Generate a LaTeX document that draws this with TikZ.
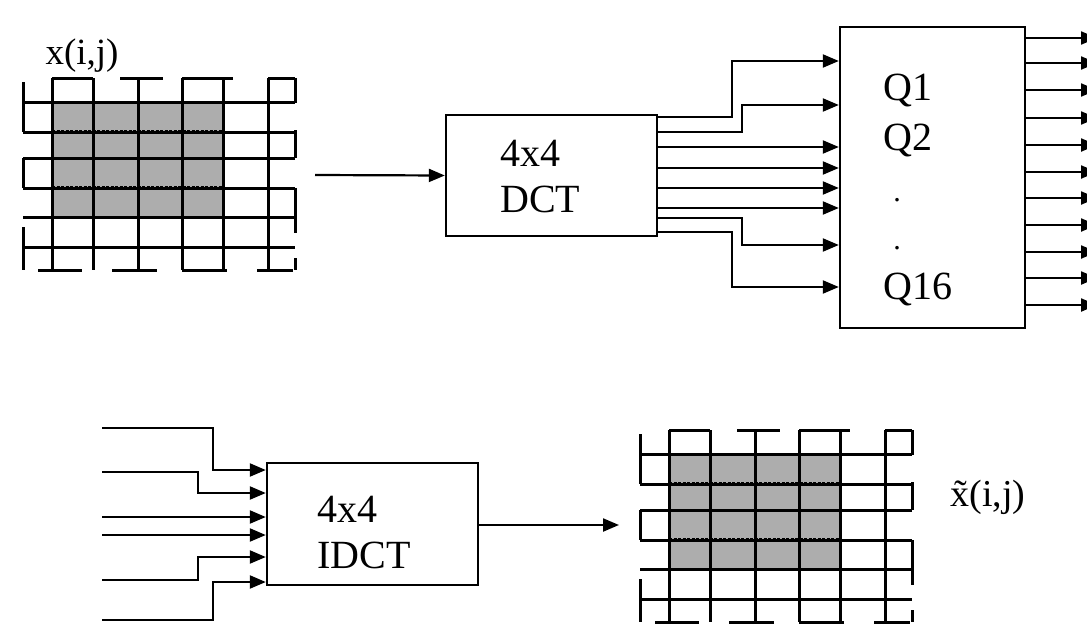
\documentclass[tikz,border=0pt]{standalone}
\usepackage{fontspec}
\setmainfont{Liberation Serif}
\usetikzlibrary{arrows.meta}
\tikzset{
  wire/.style={line width=2.2pt, line join=miter},
  arr/.style={wire, -{Triangle[length=16pt,width=13pt]}},
  box/.style={draw, line width=2.4pt, inner sep=0pt},
  lbl/.style={inner sep=0pt, anchor=west, font=\fontsize{40}{46}\selectfont},
  gline/.style={line width=3pt},
  pics/pixgrid/.style={code={
    \fill[black!32] (52,102) rectangle (223,217);
    \foreach \yy in {102,132,158,188,217,247} \draw[gline] (23,\yy) -- (295,\yy);
    \foreach \xx in {52,93,138,182,223,268} \draw[gline] (\xx,78) -- (\xx,270);
    \draw[gline, line width=4.2pt, dash pattern=on 3pt off 1.5pt] (52,132) -- (223,132) (52,188) -- (223,188);
    \draw[gline] (52,78) -- (93,78) (120,78) -- (163,78) (182,78) -- (233,78) (268,78) -- (295,78);
    \draw[gline] (38,270) -- (82,270) (112,270) -- (157,270) (182,270) -- (227,270) (257,270) -- (293,270);
    \draw[gline] (23,82) -- (23,132) (23,158) -- (23,188) (23,227) -- (23,270);
    \draw[gline] (295,78) -- (295,103) (295,130) -- (295,158) (295,188) -- (295,233) (295,258) -- (295,270);
  }}
}
\begin{document}
\begin{tikzpicture}[x=1pt,y=-1pt]
\useasboundingbox (0,0) rectangle (1087,624);
\clip (0,0) rectangle (1087,624);

% input grid and label
\pic at (0,0) {pixgrid};
\node[inner sep=0pt, font=\fontsize{37}{44}\selectfont] (xlab) at (82,56) {x(i,j)};

% DCT block
\node[box, minimum width=211pt, minimum height=121pt] (dct) at (551.5,175.5) {};
\node[lbl] (dct4) at (500,153) {4x4};
\node[lbl] (dctt) at (500,199) {DCT};
\coordinate (inA) at (315,175);
\draw[arr] (inA) -- (dct.west);

% quantiser block
\node[box, minimum width=185pt, minimum height=301pt] (q) at (932.5,177.5) {};
\node[lbl] (q1) at (883,90) {Q1};
\node[lbl] (q2) at (883,140) {Q2};
\node[inner sep=0pt] (qd1) at (897,200) {\fontsize{30}{36}\selectfont .};
\node[inner sep=0pt] (qd2) at (897,248) {\fontsize{30}{36}\selectfont .};
\node[lbl] (q16) at (883,289) {Q16};

% DCT -> Q connections
\draw[arr] (dct.east |- 0,117) -- (732,117) -- (732,61) -- (q.west |- 0,61);
\draw[arr] (dct.east |- 0,132) -- (742,132) -- (742,105) -- (q.west |- 0,105);
\foreach \yy in {147,168,188,208}
  \draw[arr] (dct.east |- 0,\yy) -- (q.west |- 0,\yy);
\draw[arr] (dct.east |- 0,218) -- (742,218) -- (742,245) -- (q.west |- 0,245);
\draw[arr] (dct.east |- 0,232) -- (732,232) -- (732,287) -- (q.west |- 0,287);

% Q outputs (cut by the page edge)
\foreach \yy [count=\k] in {38,63,90,118,145,172,198,225,252,278,305} {
  \coordinate (qo\k) at (1097,\yy);
  \draw[arr] (q.east |- 0,\yy) -- (qo\k);
}

% IDCT block
\node[box, minimum width=211pt, minimum height=122pt] (idct) at (372.5,524) {};
\node[lbl] (idct4) at (317,509) {4x4};
\node[lbl] (idctt) at (317,555) {IDCT};

\coordinate (b1) at (102,428);
\coordinate (b2) at (102,472);
\coordinate (b3) at (102,517);
\coordinate (b4) at (102,535);
\coordinate (b5) at (102,580);
\coordinate (b6) at (102,620);
\draw[arr] (b1) -- (213,428) -- (213,470) -- (idct.west |- 0,470);
\draw[arr] (b2) -- (198,472) -- (198,493) -- (idct.west |- 0,493);
\draw[arr] (b3) -- (idct.west |- 0,517);
\draw[arr] (b4) -- (idct.west |- 0,535);
\draw[arr] (b5) -- (198,580) -- (198,557) -- (idct.west |- 0,557);
\draw[arr] (b6) -- (213,620) -- (213,582) -- (idct.west |- 0,582);

\coordinate (outB) at (619,525);
\draw[arr] (idct.east |- 0,525) -- (outB);

% output grid and label
\pic at (617,352) {pixgrid};
\node[inner sep=0pt, font=\fontsize{38}{44}\selectfont] (xtl) at (988,497) {\~{x}(i,j)};
\end{tikzpicture}
\end{document}
